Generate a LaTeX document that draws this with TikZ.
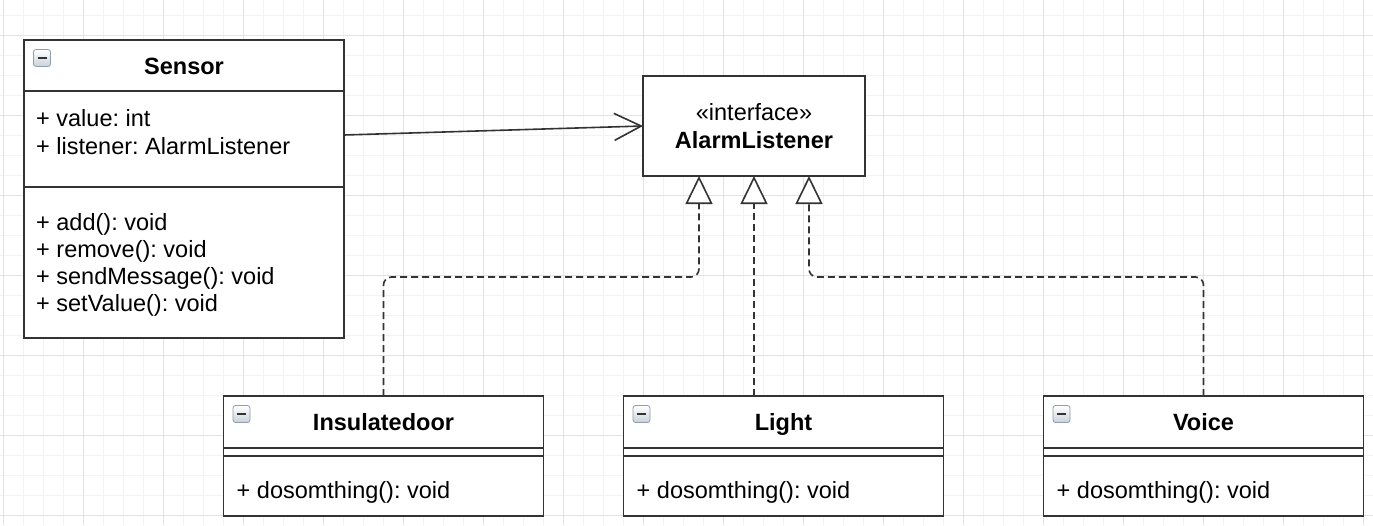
\documentclass[tikz,border=0pt]{standalone}
\usepackage{fontspec}
\setmainfont{Liberation Sans}
\usetikzlibrary{arrows.meta}
\frenchspacing

\definecolor{linecol}{HTML}{333333}
\definecolor{gridminor}{HTML}{F3F3F3}
\definecolor{gridmajor}{HTML}{E3E3E3}
\definecolor{iconfill}{HTML}{C9D1DA}
\definecolor{iconline}{HTML}{8F9DAC}
\newcommand{\umlfont}{\fontsize{23.5}{27.3}\selectfont}

\tikzset{
  compartment/.style={draw=linecol, line width=1.6pt, fill=white, minimum width=#1, inner sep=0pt, outer sep=0pt},
  classtitle/.style={compartment=320pt, minimum height=52pt, font=\umlfont\bfseries, text height=17pt, text depth=0pt},
  member/.style={anchor=base west, inner sep=0pt, font=\umlfont},
  collapse/.style={draw=iconline, line width=0.8pt, rounded corners=2.5pt, minimum size=17pt, inner sep=0pt,
    top color=white, bottom color=iconfill,
    path picture={\draw[line width=2.6pt, black!80] ([xshift=-4.5pt]path picture bounding box.center) -- ([xshift=4.5pt]path picture bounding box.center);}},
  realize/.style={draw=linecol, line width=1.6pt, dash pattern=on 7pt off 4pt, rounded corners=8pt,
    -{Triangle[length=28pt, width=27pt, fill=white]}},
  assoc/.style={draw=linecol, line width=1.6pt, -{Straight Barb[length=27pt, width=27pt]}}
}

\begin{document}
\begin{tikzpicture}[x=1pt, y=-1pt]
    \useasboundingbox (0,0) rectangle (1373,525);
    \fill[white] (0,0) rectangle (1373,525);

    % grid
    \foreach \gx in {3,23,...,1363} \draw[gridminor, line width=1pt] (\gx,0) -- (\gx,525);
    \foreach \gy in {15,35,...,515} \draw[gridminor, line width=1pt] (0,\gy) -- (1373,\gy);
    \foreach \gx in {3,83,...,1363} \draw[gridmajor, line width=1pt] (\gx,0) -- (\gx,525);
    \foreach \gy in {35,115,...,515} \draw[gridmajor, line width=1pt] (0,\gy) -- (1373,\gy);

    % Sensor
    \node[classtitle, minimum height=51pt] (sensor) at (184,65.5) {Sensor};
    \node[compartment=320pt, minimum height=96pt] (sensorattr) at (184,139) {};
    \node[compartment=320pt, minimum height=151pt] (sensorops) at (184,262.5) {};
    \node[collapse] (sensoricon) at ([shift={(18,18)}]sensor.north west) {};
    \node[member] (sensorvalue) at (36,126.7) {+ value: int};
    \node[member] (sensorlistener) at (36,154) {+ listener: AlarmListener};
    \node[member] (sensoradd) at (36,230) {+ add(): void};
    \node[member] (sensorremove) at (36,257.3) {+ remove(): void};
    \node[member] (sensorsend) at (36,284.6) {+ sendMessage(): void};
    \node[member] (sensorset) at (36,311.9) {+ setValue(): void};

    % interface
    \node[compartment=222pt, minimum height=100pt, align=center, font=\umlfont] (iface) at (754,126)
        {«interface»\\\textbf{AlarmListener}};

    % Insulatedoor
    \node[classtitle] (door) at (383.5,422) {Insulatedoor};
    \node[compartment=320pt, minimum height=8pt] (doorattr) at (383.5,452) {};
    \node[compartment=320pt, minimum height=60pt] (doorops) at (383.5,486) {};
    \node[collapse] (dooricon) at ([shift={(18,18)}]door.north west) {};
    \node[member] (doorop) at (236.5,498.3) {+ dosomthing(): void};

    % Light
    \node[classtitle] (light) at (783.5,422) {Light};
    \node[compartment=320pt, minimum height=8pt] (lightattr) at (783.5,452) {};
    \node[compartment=320pt, minimum height=60pt] (lightops) at (783.5,486) {};
    \node[collapse] (lighticon) at ([shift={(18,18)}]light.north west) {};
    \node[member] (lightop) at (636.5,498.3) {+ dosomthing(): void};

    % Voice
    \node[classtitle] (voice) at (1203.5,422) {Voice};
    \node[compartment=320pt, minimum height=8pt] (voiceattr) at (1203.5,452) {};
    \node[compartment=320pt, minimum height=60pt] (voiceops) at (1203.5,486) {};
    \node[collapse] (voiceicon) at ([shift={(18,18)}]voice.north west) {};
    \node[member] (voiceop) at (1056.5,498.3) {+ dosomthing(): void};

    % connectors
    \coordinate (bendL) at (699,277);
    \coordinate (bendR) at (809,277);
    \draw[assoc] ([yshift=4pt]sensorattr.east) -- (iface.west);
    \draw[realize] (door.north) |- (bendL) -- (bendL |- iface.south);
    \draw[realize] (iface.south |- light.north) -- (iface.south);
    \draw[realize] (voice.north) |- (bendR) -- (bendR |- iface.south);

\end{tikzpicture}
\end{document}
